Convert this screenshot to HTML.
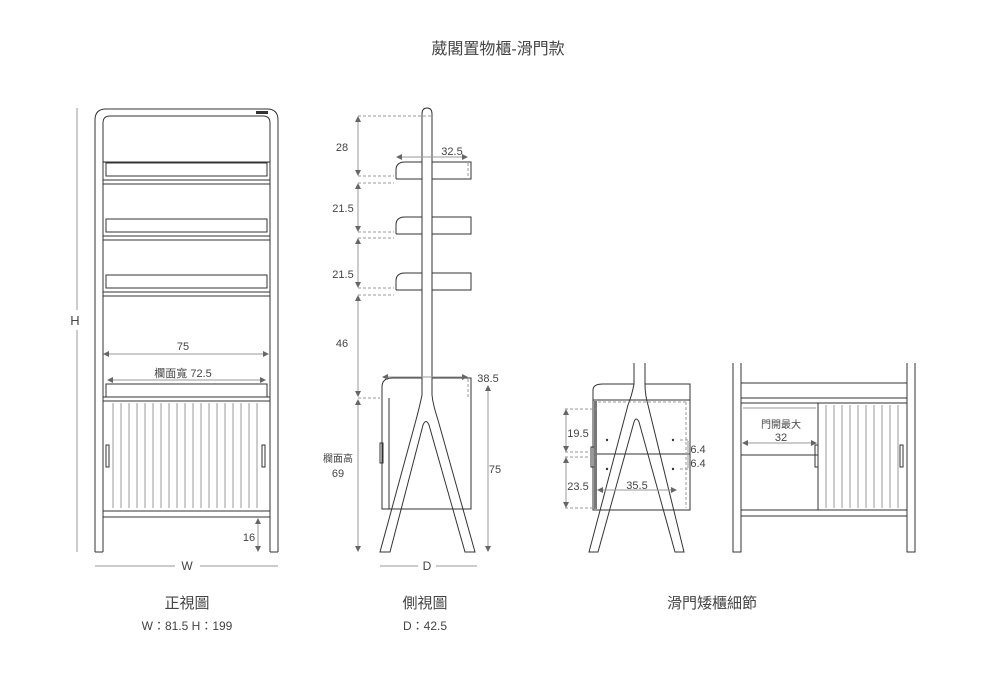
<!DOCTYPE html>
<html><head><meta charset="utf-8"><style>
html,body{margin:0;padding:0;background:#fff}
svg{display:block}
text{font-family:"Liberation Sans","Noto Sans CJK TC",sans-serif;fill:#444}
.l{stroke:#333;stroke-width:1;fill:none}
.g{stroke:#999;stroke-width:1;fill:none}
.d{stroke:#999;stroke-width:1;stroke-dasharray:3,2;fill:none}
</style></head><body>
<svg width="996" height="684" viewBox="0 0 996 684" xmlns="http://www.w3.org/2000/svg">
<defs>
<marker id="a" viewBox="0 0 6 6" refX="5" refY="3" markerWidth="6" markerHeight="6" orient="auto-start-reverse"><path d="M0,0L6,3L0,6z" fill="#666"/></marker>
</defs>
<text x="498" y="54" font-size="16" text-anchor="middle" fill="#333">葳閣置物櫃-滑門款</text>

<!-- FRONT VIEW -->
<g class="l">
<path d="M95,552V120Q95,109 106,109H267Q278,109 278,120V552"/>
<path d="M103,552V123Q103,116 110,116H263Q270,116 270,123V552"/>
<line x1="95" y1="552" x2="103" y2="552"/><line x1="270" y1="552" x2="278" y2="552"/>
<rect x="103" y="162" width="167" height="0.1"/>
<rect x="106" y="163" width="161" height="13"/><rect x="103" y="180" width="167" height="4"/>
<rect x="106" y="219" width="161" height="13"/><rect x="103" y="236" width="167" height="4"/>
<rect x="106" y="275" width="161" height="13"/><rect x="103" y="292" width="167" height="4"/>
<rect x="106" y="384" width="161" height="13"/><rect x="103" y="397" width="167" height="4"/>
<rect x="103" y="401" width="167" height="110"/>
<rect x="103" y="511" width="167" height="6"/>
<rect x="106" y="445" width="3" height="22"/><rect x="262" y="445" width="3" height="22"/>
</g>
<rect x="256" y="111" width="12" height="3" fill="#333"/>
<g class="g">
<path d="M113,403V508M121,403V508M129,403V508M137,403V508M145,403V508M153,403V508M161,403V508M169,403V508M177,403V508M185,403V508M193,403V508M201,403V508M209,403V508M217,403V508M225,403V508M233,403V508M241,403V508M249,403V508M257,403V508"/>
<line x1="77" y1="108" x2="77" y2="310"/><line x1="77" y1="330" x2="77" y2="552"/>
<line x1="104" y1="354" x2="268" y2="354" marker-start="url(#a)" marker-end="url(#a)"/>
<line x1="108" y1="380" x2="265" y2="380" marker-start="url(#a)" marker-end="url(#a)"/>
<line x1="258" y1="519" x2="258" y2="551" marker-start="url(#a)" marker-end="url(#a)"/>
<line x1="95" y1="566" x2="175" y2="566"/><line x1="200" y1="566" x2="278" y2="566"/>
</g>
<text x="75" y="325" font-size="13" text-anchor="middle">H</text>
<text x="183" y="350" font-size="11" text-anchor="middle">75</text>
<text x="183" y="377" font-size="11" text-anchor="middle">欄面寬 72.5</text>
<text x="249" y="541" font-size="11" text-anchor="middle">16</text>
<text x="187" y="570" font-size="12" text-anchor="middle">W</text>
<text x="187" y="608" font-size="15" text-anchor="middle" fill="#333">正視圖</text>
<text x="187" y="630" font-size="12" text-anchor="middle">W：81.5 H：199</text>

<!-- SIDE VIEW -->
<g class="l">
<path d="M422,395V114Q422,108 427,108Q432,108 432,114V395"/>
<path d="M396,179V170Q396,162 405,162H422M432,162H471V179H432M422,179H396"/>
<path d="M396,234V225Q396,217 405,217H422M432,217H471V234H432M422,234H396"/>
<path d="M396,290V281Q396,273 405,273H422M432,273H471V290H432M422,290H396"/>
<path d="M382,398V387Q382,378 392,378H422M432,378H471V398"/>
<path d="M382,398V509H471V398"/>
<line x1="389" y1="398" x2="389" y2="509"/>
<path d="M422,395Q420,405 416,420L380,552H390L423,425Q426,418 429,425L465,552H475L438,420Q433,405 432,395"/>
<rect x="380" y="443" width="3" height="20"/>
</g>
<g class="d">
<line x1="358" y1="116" x2="432" y2="116"/><line x1="358" y1="176" x2="394" y2="176"/>
<line x1="358" y1="183" x2="394" y2="183"/><line x1="358" y1="232" x2="394" y2="232"/>
<line x1="358" y1="238" x2="394" y2="238"/><line x1="358" y1="288" x2="394" y2="288"/>
<line x1="358" y1="295" x2="394" y2="295"/><line x1="358" y1="398" x2="380" y2="398"/>
<line x1="468" y1="163" x2="468" y2="179"/><line x1="468" y1="379" x2="468" y2="397"/>
</g>
<g class="g">
<line x1="358" y1="117" x2="358" y2="175" marker-start="url(#a)" marker-end="url(#a)"/>
<line x1="358" y1="184" x2="358" y2="231" marker-start="url(#a)" marker-end="url(#a)"/>
<line x1="358" y1="239" x2="358" y2="287" marker-start="url(#a)" marker-end="url(#a)"/>
<line x1="358" y1="296" x2="358" y2="396" marker-start="url(#a)" marker-end="url(#a)"/>
<line x1="358" y1="400" x2="358" y2="551" marker-start="url(#a)" marker-end="url(#a)"/>
<line x1="488" y1="386" x2="488" y2="551" marker-start="url(#a)" marker-end="url(#a)"/>
<line x1="397" y1="157" x2="467" y2="157" marker-start="url(#a)" marker-end="url(#a)"/>
<line x1="383" y1="377" x2="467" y2="377" marker-start="url(#a)" marker-end="url(#a)"/>
<line x1="380" y1="566" x2="418" y2="566"/><line x1="436" y1="566" x2="477" y2="566"/>
</g>
<text x="342" y="151" font-size="11" text-anchor="middle">28</text>
<text x="452" y="155" font-size="11" text-anchor="middle">32.5</text>
<text x="343" y="212" font-size="11" text-anchor="middle">21.5</text>
<text x="343" y="278" font-size="11" text-anchor="middle">21.5</text>
<text x="342" y="347" font-size="11" text-anchor="middle">46</text>
<text x="488" y="382" font-size="11" text-anchor="middle">38.5</text>
<text x="338" y="462" font-size="10" text-anchor="middle">欄面高</text>
<text x="338" y="477" font-size="11" text-anchor="middle">69</text>
<text x="495" y="473" font-size="11" text-anchor="middle">75</text>
<text x="427" y="570" font-size="12" text-anchor="middle">D</text>
<text x="425" y="608" font-size="15" text-anchor="middle" fill="#333">側視圖</text>
<text x="425" y="630" font-size="12" text-anchor="middle">D：42.5</text>

<!-- DETAIL LEFT -->
<g class="l">
<path d="M593,400V390Q593,384 603,384H634M645,384H690V400"/>
<path d="M593,400V510H690V400Z"/>
<path d="M634,363V384Q632,395 628,405L589,552H598L634,422Q636,416 639,422L675,552H684L648,405Q645,395 645,384V363"/>
<line x1="596" y1="454" x2="690" y2="454"/>
<rect x="591" y="447" width="4" height="20"/>
</g>
<rect x="594" y="401" width="3" height="108" fill="#777"/>
<g class="d">
<line x1="565" y1="409" x2="596" y2="409"/><line x1="565" y1="452" x2="596" y2="452"/>
<line x1="565" y1="457" x2="596" y2="457"/><line x1="565" y1="508" x2="596" y2="508"/>
<line x1="680" y1="440" x2="688" y2="440"/><line x1="680" y1="469" x2="688" y2="469"/>
<line x1="686" y1="402" x2="686" y2="508"/><line x1="598" y1="402" x2="686" y2="402"/>
</g>
<g fill="#333"><circle cx="607" cy="440" r="1.2"/><circle cx="673" cy="440" r="1.2"/><circle cx="607" cy="469" r="1.2"/><circle cx="673" cy="469" r="1.2"/></g>
<g class="g">
<line x1="566" y1="410" x2="566" y2="451" marker-start="url(#a)" marker-end="url(#a)"/>
<line x1="566" y1="458" x2="566" y2="507" marker-start="url(#a)" marker-end="url(#a)"/>
<line x1="598" y1="490" x2="676" y2="490" marker-start="url(#a)" marker-end="url(#a)"/>
<line x1="688" y1="441" x2="688" y2="468"/>
</g>
<text x="578" y="437" font-size="11" text-anchor="middle">19.5</text>
<text x="578" y="490" font-size="11" text-anchor="middle">23.5</text>
<text x="637" y="489" font-size="11" text-anchor="middle">35.5</text>
<text x="698" y="453" font-size="11" text-anchor="middle">6.4</text>
<text x="698" y="467" font-size="11" text-anchor="middle">6.4</text>

<!-- DETAIL RIGHT -->
<g class="l">
<path d="M733,363V552H741V363"/><path d="M907,363V552H915V363"/>
<rect x="741" y="383" width="166" height="15"/><rect x="741" y="398" width="166" height="5"/>
<rect x="741" y="403" width="166" height="107"/>
<rect x="741" y="510" width="166" height="6"/>
<line x1="818" y1="403" x2="818" y2="510"/>
<line x1="741" y1="455" x2="818" y2="455"/>
<rect x="815" y="445" width="3" height="22"/><rect x="900" y="445" width="3" height="22"/>
</g>
<g class="g">
<path d="M826,405V508M834,405V508M842,405V508M850,405V508M858,405V508M866,405V508M874,405V508M882,405V508M890,405V508M898,405V508"/>
<line x1="743" y1="443" x2="816" y2="443" marker-start="url(#a)" marker-end="url(#a)"/>
<line x1="743" y1="408" x2="816" y2="408"/>
</g>
<text x="781" y="428" font-size="10" text-anchor="middle">門開最大</text>
<text x="781" y="441" font-size="11" text-anchor="middle">32</text>
<text x="712" y="608" font-size="15" text-anchor="middle" fill="#333">滑門矮櫃細節</text>
</svg>
</body></html>
